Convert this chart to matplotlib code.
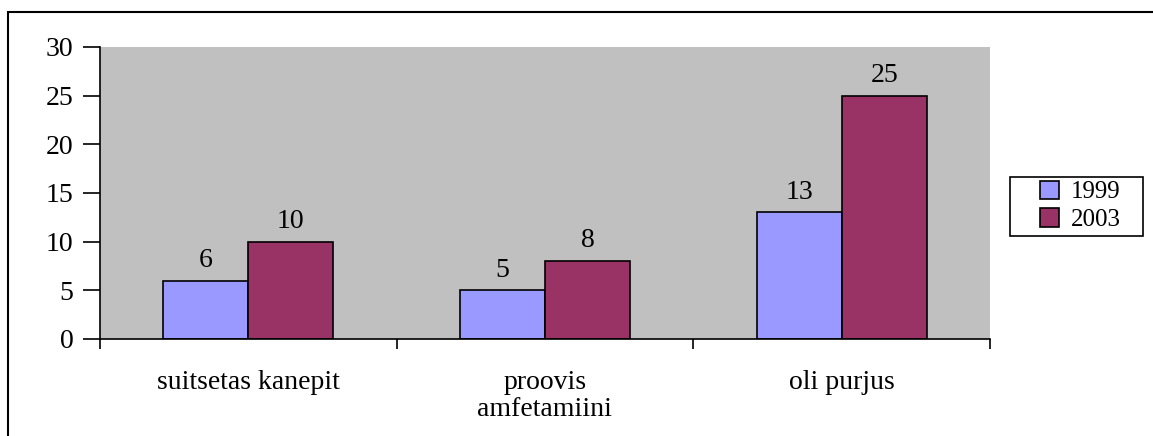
import numpy as np
import matplotlib.pyplot as plt
from matplotlib.patches import Rectangle

categories = ['suitsetas kanepit', 'proovis\namfetamiini', 'oli purjus']
years = ['1999', '2003']
values_1999 = [6, 5, 13]
values_2003 = [10, 8, 25]
colors = ['#9999FF', '#993366']

plt.rcParams['font.family'] = ['Liberation Serif', 'DejaVu Serif']

fig = plt.figure(figsize=(11.53, 4.36), dpi=100)
W, H = 1153, 436
ax = fig.add_axes([100 / W, 1 - 339 / H, 890 / W, 292 / H])
ax.set_facecolor('#C0C0C0')

# outer frame of the chart
fig.patches.append(Rectangle((8 / W, -0.1), 1.2, 1 - 12 / H + 0.1, transform=fig.transFigure,
                             fill=False, edgecolor='black', linewidth=1.5))

x = np.arange(len(categories))
w = 0.287
b1 = ax.bar(x - w / 2, values_1999, w, color=colors[0], edgecolor='black', linewidth=1.2, label=years[0])
b2 = ax.bar(x + w / 2, values_2003, w, color=colors[1], edgecolor='black', linewidth=1.2, label=years[1])

for bars, vals in [(b1, values_1999), (b2, values_2003)]:
    for r, v in zip(bars, vals):
        ax.text(r.get_x() + r.get_width() / 2, v + 0.8, str(v), ha='center', va='bottom', fontsize=20)

ax.set_xlim(-0.5, 2.5)
ax.set_ylim(0, 30)
ax.set_yticks(range(0, 31, 5))
ax.tick_params(axis='y', labelsize=20, length=12, width=1.2, pad=7)
ax.set_xticks([-0.5, 0.5, 1.5, 2.5])
ax.set_xticklabels([])
ax.tick_params(axis='x', length=7, width=1.2)
ax.set_xticks(x, minor=True)
ax.set_xticklabels(categories, minor=True, fontsize=20, linespacing=1.15)
ax.tick_params(axis='x', which='minor', length=0, pad=22)
for s in ['top', 'right']:
    ax.spines[s].set_visible(False)
for s in ['left', 'bottom']:
    ax.spines[s].set_linewidth(1.2)

# legend entries without own frame, box drawn separately (wider like the original)
leg = ax.legend(loc='center left', bbox_to_anchor=(1040 / W, 1 - 206 / H), bbox_transform=fig.transFigure,
                fontsize=18, frameon=False, handlelength=0.75, handleheight=0.75, handletextpad=0.5,
                borderpad=0, labelspacing=0.2, borderaxespad=0)
fig.patches.append(Rectangle((1010 / W, 1 - 236 / H), 133 / W, 59 / H, transform=fig.transFigure,
                             fill=False, edgecolor='black', linewidth=1.2))

fig.savefig('out.png', dpi=100)
